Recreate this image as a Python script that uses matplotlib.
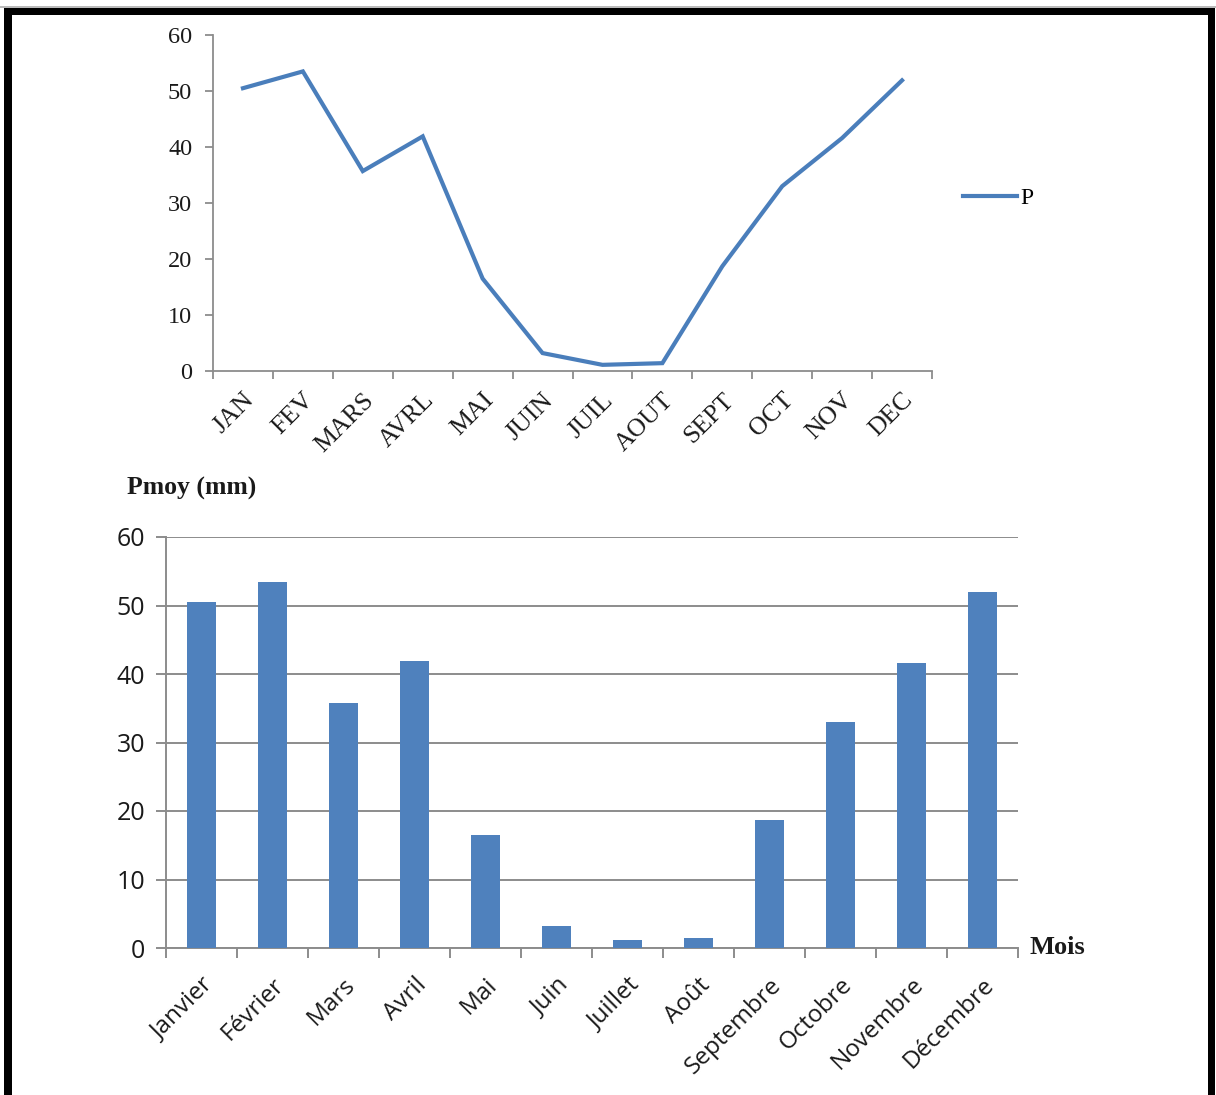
import matplotlib
matplotlib.use("Agg")
import matplotlib.pyplot as plt
from matplotlib.patches import Rectangle
from matplotlib.lines import Line2D
import numpy as np

# Monthly mean precipitation (mm)
mois_courts = ["JAN", "FEV", "MARS", "AVRL", "MAI", "JUIN", "JUIL", "AOUT",
               "SEPT", "OCT", "NOV", "DEC"]
mois_longs = ["Janvier", "Février", "Mars", "Avril", "Mai", "Juin", "Juillet",
              "Août", "Septembre", "Octobre", "Novembre", "Décembre"]
precip = [50.5, 53.5, 35.7, 41.9, 16.5, 3.2, 1.1, 1.4, 18.7, 33.0, 41.6, 51.9]
yticks = [0, 10, 20, 30, 40, 50, 60]

W, H = 1216, 1095
fig = plt.figure(figsize=(W / 100, H / 100), dpi=100)
fig.patch.set_facecolor("white")

BLUE_LINE = "#4A7EBB"
BLUE_BAR = "#4F81BD"
AXIS_GRAY = "#8C8C8C"
TEXT = "#1A1A1A"
SERIF = "Liberation Serif"
SANS = "Open Sans"


def px_box(x0, y0, x1, y1):
    """Axes rectangle from pixel edges (origin top-left)."""
    return [x0 / W, 1 - y1 / H, (x1 - x0) / W, (y1 - y0) / H]


x = np.arange(len(precip))

# ---------- Line chart ----------
ax1 = fig.add_axes(px_box(213, 35, 932, 371))
ax1.plot(x, precip, color=BLUE_LINE, lw=3.0, solid_joinstyle="miter")
ax1.set_xlim(-0.5, len(precip) - 0.5)
ax1.set_ylim(0, 60)
ax1.set_yticks(yticks)
ax1.set_yticklabels([str(v) for v in yticks], fontfamily=SERIF, fontsize=17.5,
                    color=TEXT)
ax1.set_xticks(x)
ax1.set_xticklabels(mois_courts, fontfamily=SERIF, fontsize=18.5, color=TEXT,
                    rotation=45, ha="right", va="top", rotation_mode="anchor")
ax1.set_xticks(np.arange(-0.5, len(precip)), minor=True)
ax1.tick_params(axis="x", which="major", length=0, pad=13)
ax1.tick_params(axis="x", which="minor", length=6, width=1.3, color=AXIS_GRAY)
ax1.tick_params(axis="y", length=6, width=1.3, color=AXIS_GRAY, pad=9)
for s in ("top", "right"):
    ax1.spines[s].set_visible(False)
for s in ("left", "bottom"):
    ax1.spines[s].set_color(AXIS_GRAY)
    ax1.spines[s].set_linewidth(1.3)

leg_handle = Line2D([], [], color=BLUE_LINE, lw=3.0)
fig.legend([leg_handle], ["P"], loc="center left",
           bbox_to_anchor=(963 / W, 1 - 198 / H), frameon=False,
           borderpad=0, borderaxespad=0,
           handlelength=2.3, handletextpad=0.12,
           prop={"family": SERIF, "size": 17})

# ---------- Bar chart ----------
ax2 = fig.add_axes(px_box(166, 537, 1018, 948))
ax2.bar(x, precip, width=0.4, color=BLUE_BAR, zorder=3)
ax2.set_xlim(-0.5, len(precip) - 0.5)
ax2.set_ylim(0, 60)
ax2.set_yticks(yticks)
ax2.set_yticklabels([str(v) for v in yticks], fontfamily=SANS, fontsize=18,
                    color=TEXT)
ax2.yaxis.grid(True, color=AXIS_GRAY, lw=1.4, zorder=0)
ax2.set_axisbelow(True)
ax2.set_xticks(x)
ax2.set_xticklabels(mois_longs, fontfamily=SANS, fontsize=17.5, color=TEXT,
                    rotation=45, ha="right", va="top", rotation_mode="anchor")
ax2.set_xticks(np.arange(-0.5, len(precip)), minor=True)
ax2.tick_params(axis="x", which="major", length=0, pad=18)
ax2.tick_params(axis="x", which="minor", length=7, width=1.4, color=AXIS_GRAY)
ax2.tick_params(axis="y", length=7, width=1.4, color=AXIS_GRAY, pad=8)
for s in ("top", "right"):
    ax2.spines[s].set_visible(False)
for s in ("left", "bottom"):
    ax2.spines[s].set_color(AXIS_GRAY)
    ax2.spines[s].set_linewidth(1.4)

fig.text(127 / W, 1 - 488 / H, "Pmoy (mm)", fontfamily=SERIF,
         fontweight="bold", fontsize=18.5, color=TEXT, ha="left", va="center")
fig.text(1029 / W, 1 - 947 / H, "Mois", fontfamily=SERIF,
         fontweight="bold", fontsize=19, color=TEXT, ha="left", va="center")

# ---------- Black frame ----------
def frame_bar(x0, y0, x1, y1, color="black"):
    fig.add_artist(Rectangle((x0 / W, 1 - y1 / H), (x1 - x0) / W, (y1 - y0) / H,
                             transform=fig.transFigure, facecolor=color,
                             edgecolor="none", zorder=10))

frame_bar(0, 6, W, 7.5, color="#BBBBBB")
frame_bar(4, 8, 1215, 15)
frame_bar(4, 8, 12, H)
frame_bar(1208, 8, 1215, H)

fig.savefig("out.png", dpi=100, facecolor="white")
